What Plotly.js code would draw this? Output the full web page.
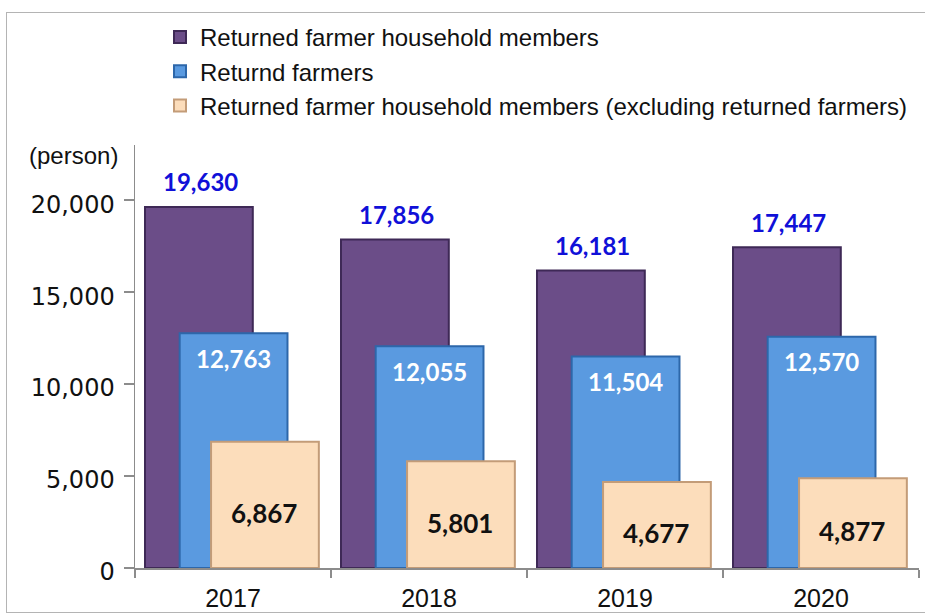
<!DOCTYPE html>
<html>
<head>
<meta charset="utf-8">
<script src="https://cdn.plot.ly/plotly-3.0.1.min.js"></script>
<style>
  html, body { margin: 0; padding: 0; background: #ffffff; }
  #wrap { position: relative; width: 925px; height: 614px; overflow: hidden; }
  #chart { position: absolute; left: 0; top: 0; width: 925px; height: 614px; }
  #frame { position: absolute; left: 6px; top: 12px; width: 940px; height: 599px;
           border: 1.5px solid #b4b4b4; pointer-events: none; }
</style>
</head>
<body>
<div id="wrap">
  <div id="chart"></div>
  <div id="frame"></div>
</div>
<script>
// ---- data ----
const years = ['2017', '2018', '2019', '2020'];
const householdMembers = [19630, 17856, 16181, 17447];
const returnedFarmers = [12763, 12055, 11504, 12570];
const membersExclFarmers = [6867, 5801, 4677, 4877];
const seriesNames = [
  'Returned farmer household members',
  'Returnd farmers',
  'Returned farmer household members (excluding returned farmers)'
];
const yTickVals = [0, 5000, 10000, 15000, 20000];
const unitLabel = '(person)';

// ---- styling ----
const barWidth = 0.55;
const fmt = v => v.toLocaleString('en-US');
const labelFont = 'Lato, "Open Sans", sans-serif';
const plotW = 925 - 135 - 6, plotH = 614 - 145 - 46;

const traces = [
  {
    type: 'bar', name: seriesNames[0], x: years, y: householdMembers,
    width: barWidth, offset: -0.449, legendgroup: 'a',
    marker: { color: '#6B4D88', line: { color: '#3E2956', width: 2 } },
    hoverinfo: 'x+y'
  },
  {
    type: 'bar', name: seriesNames[1], x: years, y: returnedFarmers,
    width: barWidth, offset: -0.272, legendgroup: 'b',
    marker: { color: '#5A9AE0', line: { color: '#2D67AA', width: 2 } },
    hoverinfo: 'x+y'
  },
  {
    type: 'bar', name: seriesNames[2], x: years, y: membersExclFarmers,
    width: barWidth, offset: -0.112, legendgroup: 'c',
    marker: { color: '#FCDDBB', line: { color: '#C39C78', width: 2 } },
    hoverinfo: 'x+y'
  }
];

// value labels, positioned through the data scales (x = category index)
const annotations = [];
years.forEach((yr, i) => {
  annotations.push({
    x: i, y: householdMembers[i], xref: 'x', yref: 'y',
    text: '<b>' + fmt(householdMembers[i]) + '</b>', showarrow: false,
    xshift: -33, yshift: 25, yanchor: 'middle',
    font: { family: labelFont, size: 24, color: '#1010D8' }
  });
  annotations.push({
    x: i, y: returnedFarmers[i], xref: 'x', yref: 'y',
    text: '<b>' + fmt(returnedFarmers[i]) + '</b>', showarrow: false,
    xshift: 0, yshift: -25, yanchor: 'middle',
    font: { family: labelFont, size: 24, color: '#ffffff' }
  });
  annotations.push({
    x: i, y: membersExclFarmers[i] / 2, xref: 'x', yref: 'y',
    text: '<b>' + fmt(membersExclFarmers[i]) + '</b>', showarrow: false,
    xshift: 31, yshift: -8, yanchor: 'middle',
    font: { family: labelFont, size: 26, color: '#111111' }
  });
});
annotations.push({
  x: (27 - 135) / plotW, y: (568 - 155) / plotH, xref: 'paper', yref: 'paper',
  xanchor: 'left', yanchor: 'middle', showarrow: false,
  text: unitLabel,
  font: { family: 'Liberation Sans, Arial, sans-serif', size: 24, color: '#111111' }
});

const layout = {
  width: 925, height: 614,
  margin: { l: 135, r: 6, t: 145, b: 46, autoexpand: false },
  paper_bgcolor: '#ffffff', plot_bgcolor: '#ffffff',
  barmode: 'overlay',
  showlegend: true,
  legend: {
    xref: 'container', yref: 'container',
    x: 160 / 925, y: 1 - 15 / 614, xanchor: 'left', yanchor: 'top',
    orientation: 'v', traceorder: 'normal', tracegroupgap: 8,
    bgcolor: 'rgba(0,0,0,0)',
    font: { family: 'Liberation Sans, Arial, sans-serif', size: 24, color: '#111111' }
  },
  xaxis: {
    type: 'category', range: [-0.5, 3.5],
    showline: true, linecolor: '#8c8c8c', linewidth: 1.5,
    ticks: 'outside', tickson: 'boundaries', ticklen: 8, tickcolor: '#8c8c8c', tickwidth: 1.5,
    ticklabelstandoff: 7,
    showgrid: false, zeroline: false,
    tickfont: { family: 'Liberation Sans, Arial, sans-serif', size: 25, color: '#111111' }
  },
  yaxis: {
    range: [0, 23000],
    tickvals: yTickVals, tickformat: ',d',
    showline: true, linecolor: '#8c8c8c', linewidth: 1.5,
    ticks: 'outside', ticklen: 10, tickcolor: '#8c8c8c', tickwidth: 1.5,
    ticklabelstandoff: 4, ticklabelshift: 4,
    showgrid: false, zeroline: false,
    tickfont: { family: 'DejaVu Sans, Verdana, sans-serif', size: 24, color: '#111111' }
  },
  annotations: annotations,
  font: { family: 'Liberation Sans, Arial, sans-serif' }
};

Plotly.newPlot('chart', traces, layout, { displayModeBar: false, staticPlot: true });
</script>
</body>
</html>
